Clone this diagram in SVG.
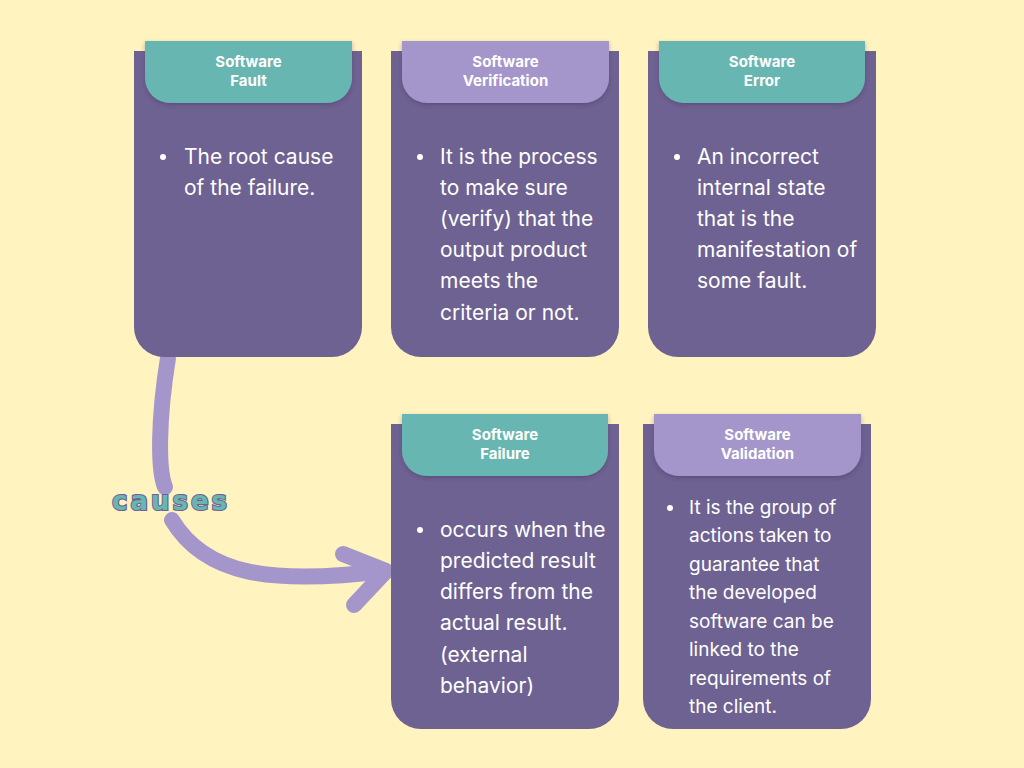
<svg xmlns="http://www.w3.org/2000/svg" width="1024" height="768" viewBox="0 0 1024 768">
<defs>
<filter id="sh" x="-10%" y="-20%" width="120%" height="150%">
<feDropShadow dx="0" dy="2" stdDeviation="2" flood-color="#3a2f55" flood-opacity="0.35"/>
</filter>
<style>
.body{fill:#6E6292}
.teal{fill:#68B6B2}
.lav{fill:#A495CA}
.hd{font-family:"Inter","Liberation Sans",sans-serif;font-weight:bold;font-size:15px;fill:#ffffff;text-anchor:middle}
.tx{font-family:"Inter","Liberation Sans",sans-serif;font-size:21px;fill:#ffffff}
.tx2{font-family:"Inter","Liberation Sans",sans-serif;font-size:19px;fill:#ffffff}
.bul{fill:#ffffff}
.arrow{fill:none;stroke:#A495CA;stroke-width:16;stroke-linecap:round;stroke-linejoin:round}
.cause{font-family:"DejaVu Sans",sans-serif;font-weight:bold;font-size:26px;fill:#68B6B2;stroke:#6E6292;stroke-width:2.2;paint-order:stroke;letter-spacing:3px}
</style>
</defs>
<rect width="1024" height="768" fill="#FFF3C0"/>

<g id="connectors">
<path class="arrow" d="M168,358 C158,420 158,470 165,487"/>
<path class="arrow" d="M172,520 C205,575 270,585 385,571"/>
<path class="arrow" d="M343,554 L386,571 L354,605"/>
</g>
<g id="label-causes">
<text class="cause" x="112" y="510">causes</text>
</g>

<g id="node-fault">
<path class="body" d="M134,51 H362 V327 A30,30 0 0 1 332,357 H164 A30,30 0 0 1 134,327 Z"/>
<path class="teal" filter="url(#sh)" d="M145,41 H352 V78 A25,25 0 0 1 327,103 H170 A25,25 0 0 1 145,78 Z"/>
<text class="hd" x="248.5" y="67">Software</text>
<text class="hd" x="248.5" y="86">Fault</text>
<circle class="bul" cx="163" cy="157" r="3"/>
<text class="tx" x="184" y="164">The root cause</text>
<text class="tx" x="184" y="195">of the failure.</text>
</g>

<g id="node-verification">
<path class="body" d="M391,51 H619 V327 A30,30 0 0 1 589,357 H421 A30,30 0 0 1 391,327 Z"/>
<path class="lav" filter="url(#sh)" d="M402,41 H609 V78 A25,25 0 0 1 584,103 H427 A25,25 0 0 1 402,78 Z"/>
<text class="hd" x="505.5" y="67">Software</text>
<text class="hd" x="505.5" y="86">Verification</text>
<circle class="bul" cx="420" cy="157" r="3"/>
<text class="tx" x="440" y="164">It is the process</text>
<text class="tx" x="440" y="195">to make sure</text>
<text class="tx" x="440" y="226">(verify) that the</text>
<text class="tx" x="440" y="257">output product</text>
<text class="tx" x="440" y="288">meets the</text>
<text class="tx" x="440" y="320">criteria or not.</text>
</g>

<g id="node-error">
<path class="body" d="M648,51 H876 V327 A30,30 0 0 1 846,357 H678 A30,30 0 0 1 648,327 Z"/>
<path class="teal" filter="url(#sh)" d="M659,41 H865 V78 A25,25 0 0 1 840,103 H684 A25,25 0 0 1 659,78 Z"/>
<text class="hd" x="762" y="67">Software</text>
<text class="hd" x="762" y="86">Error</text>
<circle class="bul" cx="677" cy="157" r="3"/>
<text class="tx" x="697" y="164">An incorrect</text>
<text class="tx" x="697" y="195">internal state</text>
<text class="tx" x="697" y="226">that is the</text>
<text class="tx" x="697" y="257">manifestation of</text>
<text class="tx" x="697" y="288">some fault.</text>
</g>

<g id="node-failure">
<path class="body" d="M391,424 H619 V699 A30,30 0 0 1 589,729 H421 A30,30 0 0 1 391,699 Z"/>
<path class="teal" filter="url(#sh)" d="M402,414 H608 V451 A25,25 0 0 1 583,476 H427 A25,25 0 0 1 402,451 Z"/>
<text class="hd" x="505" y="440">Software</text>
<text class="hd" x="505" y="459">Failure</text>
<circle class="bul" cx="420" cy="530" r="3"/>
<text class="tx" x="440" y="537">occurs when the</text>
<text class="tx" x="440" y="568">predicted result</text>
<text class="tx" x="440" y="599">differs from the</text>
<text class="tx" x="440" y="630">actual result.</text>
<text class="tx" x="440" y="662">(external</text>
<text class="tx" x="440" y="693">behavior)</text>
</g>

<g id="node-validation">
<path class="body" d="M643,424 H871 V699 A30,30 0 0 1 841,729 H673 A30,30 0 0 1 643,699 Z"/>
<path class="lav" filter="url(#sh)" d="M654,414 H861 V451 A25,25 0 0 1 836,476 H679 A25,25 0 0 1 654,451 Z"/>
<text class="hd" x="757.5" y="440">Software</text>
<text class="hd" x="757.5" y="459">Validation</text>
<circle class="bul" cx="670" cy="508" r="3"/>
<text class="tx2" x="689" y="514">It is the group of</text>
<text class="tx2" x="689" y="542">actions taken to</text>
<text class="tx2" x="689" y="571">guarantee that</text>
<text class="tx2" x="689" y="599">the developed</text>
<text class="tx2" x="689" y="628">software can be</text>
<text class="tx2" x="689" y="656">linked to the</text>
<text class="tx2" x="689" y="685">requirements of</text>
<text class="tx2" x="689" y="713">the client.</text>
</g>
</svg>
